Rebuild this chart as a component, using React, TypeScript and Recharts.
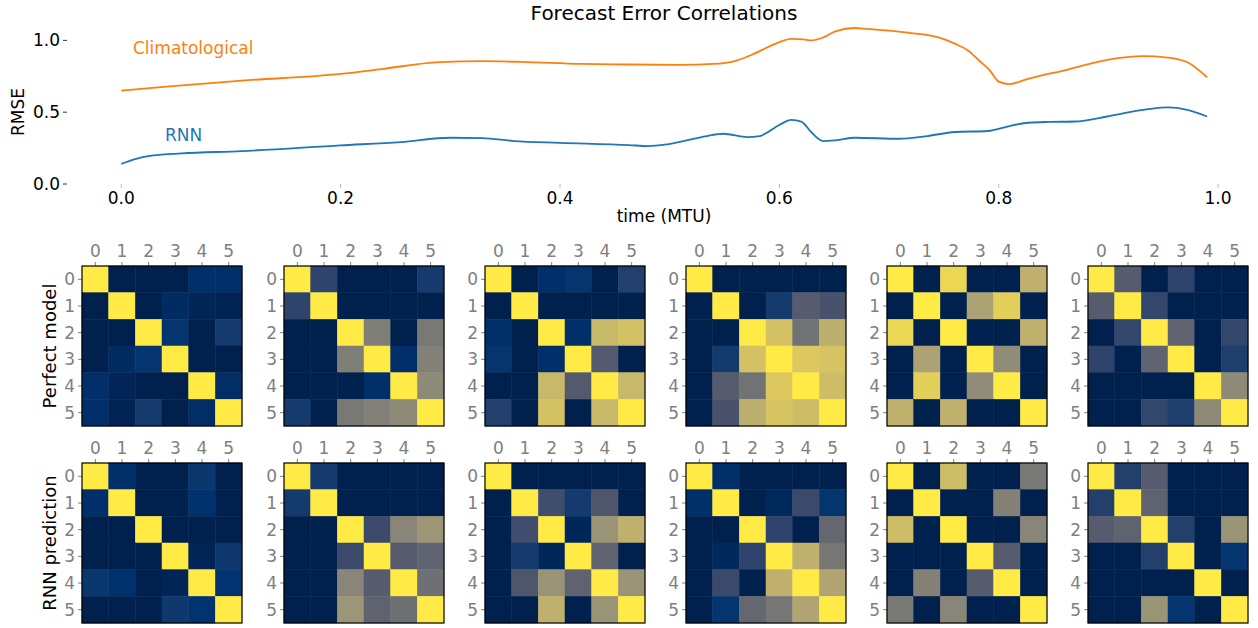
import React from "react";
import { LineChart, Line, XAxis, YAxis, ScatterChart, Scatter } from "recharts";

const FONT = '"DejaVu Sans", Verdana, sans-serif';

// RMSE curves
const climTime = [0, 0.044, 0.11, 0.2, 0.237, 0.29, 0.33, 0.365, 0.42, 0.463, 0.509, 0.54, 0.56, 0.575, 0.59, 0.6, 0.611, 0.622, 0.629, 0.64, 0.651, 0.669, 0.68, 0.717, 0.746, 0.76, 0.772, 0.782, 0.792, 0.8, 0.81, 0.826, 0.863, 0.899, 0.932, 0.954, 0.972, 0.99];
const climRmse = [0.65, 0.68, 0.72, 0.766, 0.8, 0.848, 0.855, 0.85, 0.836, 0.832, 0.83, 0.836, 0.858, 0.9, 0.955, 0.988, 1.01, 1.007, 1.0, 1.02, 1.063, 1.086, 1.08, 1.054, 1.019, 0.977, 0.93, 0.86, 0.79, 0.713, 0.696, 0.73, 0.797, 0.864, 0.89, 0.88, 0.848, 0.743];
const rnnTime = [0, 0.011, 0.029, 0.055, 0.11, 0.2, 0.255, 0.3, 0.329, 0.358, 0.4, 0.463, 0.48, 0.498, 0.534, 0.549, 0.571, 0.582, 0.6, 0.611, 0.62, 0.629, 0.64, 0.651, 0.669, 0.709, 0.735, 0.76, 0.79, 0.808, 0.823, 0.845, 0.87, 0.899, 0.936, 0.954, 0.972, 0.99];
const rnnRmse = [0.14, 0.17, 0.199, 0.213, 0.229, 0.269, 0.292, 0.322, 0.32, 0.299, 0.287, 0.271, 0.264, 0.276, 0.334, 0.35, 0.327, 0.334, 0.411, 0.446, 0.435, 0.362, 0.299, 0.304, 0.322, 0.315, 0.334, 0.362, 0.369, 0.4, 0.423, 0.432, 0.435, 0.47, 0.521, 0.533, 0.516, 0.47];

const timeTicks = [0, 0.2, 0.4, 0.6, 0.8, 1.0];
const rmseTicks = [0, 0.5, 1.0];
const varTicks = [0, 1, 2, 3, 4, 5];

// error correlation matrices (top row: perfect model, bottom row: RNN prediction)
const pm1 = [
  [1, 0, 0, 0, 0.09, 0.09],
  [0, 1, 0, 0.07, 0.03, 0.02],
  [0, 0, 1, 0.12, 0, 0.15],
  [0, 0.07, 0.12, 1, 0, 0],
  [0.09, 0.03, 0, 0, 1, 0.08],
  [0.09, 0.02, 0.15, 0, 0.08, 1],
];
const pm2 = [
  [1, 0.2, 0, 0, 0, 0.15],
  [0.2, 1, 0, 0, 0, 0],
  [0, 0, 1, 0.51, 0, 0.48],
  [0, 0, 0.51, 1, 0.09, 0.52],
  [0, 0, 0, 0.09, 1, 0.57],
  [0.15, 0, 0.48, 0.52, 0.57, 1],
];
const pm3 = [
  [1, 0, 0.09, 0.12, 0, 0.18],
  [0, 1, 0, 0, 0, 0],
  [0.09, 0, 1, 0.09, 0.79, 0.83],
  [0.12, 0, 0.09, 1, 0.32, 0],
  [0, 0, 0.79, 0.32, 1, 0.79],
  [0.18, 0, 0.83, 0, 0.79, 1],
];
const pm4 = [
  [1, 0, 0, 0, 0, 0],
  [0, 1, 0, 0.15, 0.33, 0.28],
  [0, 0, 1, 0.83, 0.45, 0.75],
  [0, 0.15, 0.83, 1, 0.86, 0.84],
  [0, 0.33, 0.45, 0.86, 1, 0.81],
  [0, 0.28, 0.75, 0.84, 0.81, 1],
];
const pm5 = [
  [1, 0, 0.92, 0, 0, 0.76],
  [0, 1, 0, 0.69, 0.89, 0],
  [0.92, 0, 1, 0, 0, 0.76],
  [0, 0.69, 0, 1, 0.58, 0],
  [0, 0.89, 0, 0.58, 1, 0],
  [0.76, 0, 0.76, 0, 0, 1],
];
const pm6 = [
  [1, 0.33, 0, 0.2, 0, 0],
  [0.33, 1, 0.21, 0, 0, 0],
  [0, 0.21, 1, 0.37, 0, 0.21],
  [0.2, 0, 0.37, 1, 0, 0.17],
  [0, 0, 0, 0, 1, 0.57],
  [0, 0, 0.21, 0.17, 0.57, 1],
];
const rnn1 = [
  [1, 0.09, 0, 0, 0.13, 0],
  [0.09, 1, 0, 0, 0.1, 0],
  [0, 0, 1, 0, 0, 0],
  [0, 0, 0, 1, 0.03, 0.14],
  [0.13, 0.1, 0, 0.03, 1, 0.11],
  [0, 0, 0, 0.14, 0.11, 1],
];
const rnn2 = [
  [1, 0.15, 0, 0, 0, 0],
  [0.15, 1, 0, 0, 0, 0],
  [0, 0, 1, 0.23, 0.55, 0.63],
  [0, 0, 0.23, 1, 0.33, 0.37],
  [0, 0, 0.55, 0.33, 1, 0.44],
  [0, 0, 0.63, 0.37, 0.44, 1],
];
const rnn3 = [
  [1, 0, 0, 0, 0, 0],
  [0, 1, 0.25, 0.15, 0.3, 0],
  [0, 0.25, 1, 0.04, 0.62, 0.76],
  [0, 0.15, 0.04, 1, 0.37, 0],
  [0, 0.3, 0.62, 0.37, 1, 0.62],
  [0, 0, 0.76, 0, 0.62, 1],
];
const rnn4 = [
  [1, 0.09, 0, 0, 0, 0],
  [0.09, 1, 0, 0.05, 0.23, 0.12],
  [0, 0, 1, 0.2, 0, 0.39],
  [0, 0.05, 0.2, 1, 0.76, 0.47],
  [0, 0.23, 0, 0.76, 1, 0.7],
  [0, 0.12, 0.39, 0.47, 0.7, 1],
];
const rnn5 = [
  [1, 0, 0.81, 0, 0, 0.48],
  [0, 1, 0, 0, 0.52, 0],
  [0.81, 0, 1, 0, 0, 0.55],
  [0, 0, 0, 1, 0.33, 0],
  [0, 0.52, 0, 0.33, 1, 0],
  [0.48, 0, 0.55, 0, 0, 1],
];
const rnn6 = [
  [1, 0.18, 0.33, 0, 0, 0],
  [0.18, 1, 0.37, 0, 0, 0],
  [0.33, 0.37, 1, 0.18, 0, 0.62],
  [0, 0, 0.18, 1, 0, 0.12],
  [0, 0, 0, 0, 1, 0],
  [0, 0, 0.62, 0.12, 0, 1],
];

const perfectRow = [pm1, pm2, pm3, pm4, pm5, pm6];
const rnnRow = [rnn1, rnn2, rnn3, rnn4, rnn5, rnn6];

// cividis colormap stops
const CIVIDIS = ["#00204D", "#00336F", "#39486B", "#575C6D", "#707173", "#8A8779", "#A69D75", "#C4B56C", "#E4CF5B", "#FFEA46"];

const hex = (h: string) => [1, 3, 5].map((i) => parseInt(h.slice(i, i + 2), 16));
const cividis = (v: number) => {
  const t = Math.max(0, Math.min(1, v)) * (CIVIDIS.length - 1);
  const i = Math.min(Math.floor(t), CIVIDIS.length - 2);
  const f = t - i;
  const a = hex(CIVIDIS[i]);
  const b = hex(CIVIDIS[i + 1]);
  const c = a.map((x, k) => Math.round(x + (b[k] - x) * f));
  return `rgb(${c[0]},${c[1]},${c[2]})`;
};

const climData = climTime.map((t, i) => ({ t, rmse: climRmse[i] }));
const rnnData = rnnTime.map((t, i) => ({ t, rmse: rnnRmse[i] }));

// heatmap geometry
const PLOT = 160;
const CELL = PLOT / 6;
const AXIS_W = 30;
const AXIS_H = 28;
const heatLefts = [82, 284, 485, 686, 887, 1088];
const heatTops = [266, 463];
const frameCenter = [{ col: 2.5, row: 2.5 }];

const renderCell = (props: any) => {
  const { cx, cy, payload } = props;
  const fill = cividis(payload.v);
  return <rect x={cx - CELL / 2} y={cy - CELL / 2} width={CELL} height={CELL} fill={fill} stroke={fill} strokeWidth={0.5} />;
};

// outline drawn around the whole matrix, centred on the middle of the grid
const renderFrame = (props: any) => {
  const { cx, cy } = props;
  return <rect x={cx - PLOT / 2} y={cy - PLOT / 2} width={PLOT} height={PLOT} fill="none" stroke="#000" strokeWidth={1.2} />;
};

const Heatmap = ({ matrix, left, top }: { matrix: number[][]; left: number; top: number }) => {
  const cells: { col: number; row: number; v: number }[] = [];
  matrix.forEach((row, r) => row.forEach((v, c) => cells.push({ col: c, row: r, v })));
  const tickStyle = { fontSize: 17, fill: "#808080", fontFamily: FONT };
  return (
    <div style={{ position: "absolute", left: left - AXIS_W, top: top - AXIS_H }}>
      <ScatterChart width={AXIS_W + PLOT + 3} height={AXIS_H + PLOT + 8} margin={{ top: 0, right: 3, bottom: 0, left: 0 }}>
        <XAxis xAxisId="top" orientation="top" type="number" dataKey="col" domain={[-0.5, 5.5]} ticks={varTicks}
          height={AXIS_H} axisLine={false} tickSize={4} tickMargin={5} tick={tickStyle} tickLine={{ stroke: "#808080" }} />
        <XAxis xAxisId="bottom" orientation="bottom" type="number" dataKey="col" domain={[-0.5, 5.5]} ticks={varTicks}
          height={8} axisLine={false} tickSize={4} tick={false} tickLine={{ stroke: "#808080" }} />
        <YAxis yAxisId="left" type="number" dataKey="row" domain={[-0.5, 5.5]} ticks={varTicks} reversed
          width={AXIS_W} axisLine={false} tickSize={4} tickMargin={3} tick={tickStyle} tickLine={{ stroke: "#808080" }} />
        <Scatter xAxisId="top" yAxisId="left" data={cells} shape={renderCell} isAnimationActive={false} />
        <Scatter xAxisId="top" yAxisId="left" data={frameCenter} shape={renderFrame} isAnimationActive={false} />
      </ScatterChart>
    </div>
  );
};

export default function App() {
  const tick = { fontSize: 17, fill: "#000", fontFamily: FONT };
  return (
    <div style={{ position: "absolute", left: 0, top: 0, width: 1258, height: 628, background: "#fff", overflow: "hidden", fontFamily: FONT }}>
      <div style={{ position: "absolute", left: 0, top: 0 }}>
        <LineChart width={1258} height={224} margin={{ top: 26, right: 1, bottom: 0, left: 0 }}>
          <XAxis type="number" dataKey="t" domain={[-0.0495, 1.0355]} ticks={timeTicks} allowDataOverflow
            tickFormatter={(v: number) => v.toFixed(1)} height={40} axisLine={false} tickSize={4} tickMargin={4}
            tick={tick} tickLine={{ stroke: "#bbb" }} />
          <YAxis type="number" dataKey="rmse" domain={[0, 1.1]} ticks={rmseTicks} allowDataOverflow
            tickFormatter={(v: number) => v.toFixed(1)} width={67} axisLine={false} tickSize={4} tickMargin={3}
            tick={tick} tickLine={{ stroke: "#333" }} />
          <Line data={climData} dataKey="rmse" type="monotone" stroke="#ff7f0e" strokeWidth={1.8} dot={false} isAnimationActive={false} />
          <Line data={rnnData} dataKey="rmse" type="monotone" stroke="#1f77b4" strokeWidth={1.8} dot={false} isAnimationActive={false} />
        </LineChart>
      </div>

      {perfectRow.map((m, i) => (
        <Heatmap key={"p" + i} matrix={m} left={heatLefts[i]} top={heatTops[0]} />
      ))}
      {rnnRow.map((m, i) => (
        <Heatmap key={"r" + i} matrix={m} left={heatLefts[i]} top={heatTops[1]} />
      ))}

      <svg width={1258} height={628} style={{ position: "absolute", left: 0, top: 0, pointerEvents: "none" }}>
        <text x={664} y={20} textAnchor="middle" fontSize={20} fontFamily={FONT} fill="#000">Forecast Error Correlations</text>
        <text x={664} y={222} textAnchor="middle" fontSize={17} fontFamily={FONT} fill="#000">time (MTU)</text>
        <text x={0} y={0} transform="translate(24,112) rotate(-90)" textAnchor="middle" fontSize={17} fontFamily={FONT} fill="#000">RMSE</text>
        <text x={133} y={54} fontSize={17} fontFamily={FONT} fill="#ff7f0e">Climatological</text>
        <text x={165} y={141} fontSize={17} fontFamily={FONT} fill="#1f77b4">RNN</text>
        <text x={0} y={0} transform="translate(56,346) rotate(-90)" textAnchor="middle" fontSize={18} fontFamily={FONT} fill="#000">Perfect model</text>
        <text x={0} y={0} transform="translate(56,543) rotate(-90)" textAnchor="middle" fontSize={18} fontFamily={FONT} fill="#000">RNN prediction</text>
      </svg>
    </div>
  );
}
